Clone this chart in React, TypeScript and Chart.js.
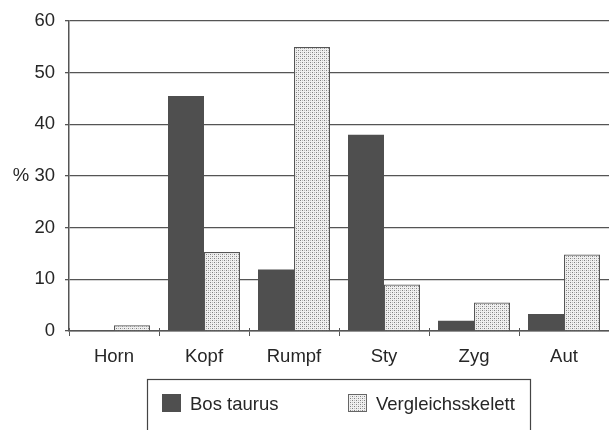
import React, { useEffect, useRef } from "react";
import { Chart, registerables } from "chart.js";

Chart.register(...registerables);

const categories = ["Horn", "Kopf", "Rumpf", "Sty", "Zyg", "Aut"];
const bosTaurus = [0, 45.5, 11.9, 38.0, 2.0, 3.3];
const vergleichsskelett = [1.1, 15.3, 55.0, 9.0, 5.5, 14.8];
const seriesNames = ["Bos taurus", "Vergleichsskelett"];
const yTicks = [0, 10, 20, 30, 40, 50, 60];

const FONT = "'Liberation Sans', Arial, Helvetica, sans-serif";
const DARK = "#4f4f4f";
const AXIS = "#555555";
const TEXT = "#262626";

function makePattern(): CanvasPattern | string {
  const c = document.createElement("canvas");
  c.width = 4;
  c.height = 4;
  const g = c.getContext("2d");
  if (!g) return "#dcdcdc";
  g.fillStyle = "#f0f0f0";
  g.fillRect(0, 0, 4, 4);
  g.fillStyle = "#808080";
  g.fillRect(0, 0, 1, 1);
  g.fillRect(2, 2, 1, 1);
  g.fillStyle = "#bcbcbc";
  g.fillRect(2, 0, 1, 1);
  g.fillRect(0, 2, 1, 1);
  const p = g.createPattern(c, "repeat");
  return p || "#dcdcdc";
}

export default function App() {
  const ref = useRef<HTMLCanvasElement | null>(null);

  useEffect(() => {
    const canvas = ref.current;
    if (!canvas) return;
    const pattern = makePattern();

    const legendPlugin = {
      id: "boxLegend",
      afterDraw(chart: any) {
        const ctx = chart.ctx;
        ctx.save();
        // small tick crosses above the x axis, as in the reference
        const xs = chart.scales.x;
        const bottom = chart.chartArea.bottom;
        ctx.strokeStyle = AXIS;
        ctx.lineWidth = 1;
        for (let i = 0; i <= categories.length; i++) {
          const px = Math.round(xs.getPixelForValue(i - 0.5)) + 0.5;
          ctx.beginPath();
          ctx.moveTo(px, bottom - 3);
          ctx.lineTo(px, bottom);
          ctx.stroke();
        }
        // legend box
        ctx.strokeStyle = "#444";
        ctx.lineWidth = 1.2;
        ctx.strokeRect(147.5, 379.5, 383, 60);
        const items = [
          { x: 162, tx: 190, fill: DARK, border: DARK },
          { x: 348, tx: 376, fill: pattern, border: "#666" },
        ];
        ctx.font = `18.5px ${FONT}`;
        ctx.textBaseline = "middle";
        ctx.textAlign = "left";
        items.forEach((it, i) => {
          ctx.fillStyle = it.fill;
          ctx.fillRect(it.x, 394, 19, 18);
          ctx.strokeStyle = it.border;
          ctx.lineWidth = 1;
          ctx.strokeRect(it.x + 0.5, 394.5, 18, 17);
          ctx.fillStyle = TEXT;
          ctx.fillText(seriesNames[i], it.tx, 405);
        });
        ctx.restore();
      },
    };

    const chart = new Chart(canvas, {
      type: "bar",
      data: {
        labels: categories,
        datasets: [
          {
            label: seriesNames[0],
            data: bosTaurus,
            backgroundColor: DARK,
            borderColor: DARK,
            borderWidth: 0,
            categoryPercentage: 0.8,
            barPercentage: 1.0,
          },
          {
            label: seriesNames[1],
            data: vergleichsskelett,
            backgroundColor: pattern as any,
            borderColor: "#555",
            borderWidth: 1.2,
            categoryPercentage: 0.8,
            barPercentage: 1.0,
          },
        ],
      },
      options: {
        animation: false,
        responsive: false,
        maintainAspectRatio: false,
        layout: { padding: { top: 20, right: 0, bottom: 0, left: 0 } },
        plugins: {
          legend: { display: false },
          tooltip: { enabled: false },
        },
        scales: {
          x: {
            grid: {
              display: true,
              drawOnChartArea: false,
              drawTicks: true,
              tickLength: 5,
              color: AXIS,
              offset: true,
            },
            border: { display: true, color: AXIS, width: 1.5 },
            ticks: {
              color: TEXT,
              font: { family: FONT, size: 18.5 },
              padding: 10,
              maxRotation: 0,
            },
            afterFit(scale: any) {
              scale.height = 99;
            },
          },
          y: {
            min: 0,
            max: 60,
            afterBuildTicks(scale: any) {
              scale.ticks = yTicks.map((v) => ({ value: v }));
            },
            grid: {
              color: AXIS,
              lineWidth: 1.3,
              tickLength: 4,
            },
            border: { display: true, color: AXIS, width: 1.5 },
            ticks: {
              color: TEXT,
              font: { family: FONT, size: 18.5 },
              padding: 10,
              callback: (v: any) => (Number(v) === 30 ? "% 30" : String(v)),
            },
            afterFit(scale: any) {
              scale.width = 69;
            },
          },
        },
      },
      plugins: [legendPlugin],
    } as any);

    return () => chart.destroy();
  }, []);

  return (
    <div style={{ position: "fixed", left: 0, top: 0, width: 609, height: 430, background: "#fff" }}>
      <canvas ref={ref} width={609} height={430} style={{ display: "block" }} />
    </div>
  );
}
